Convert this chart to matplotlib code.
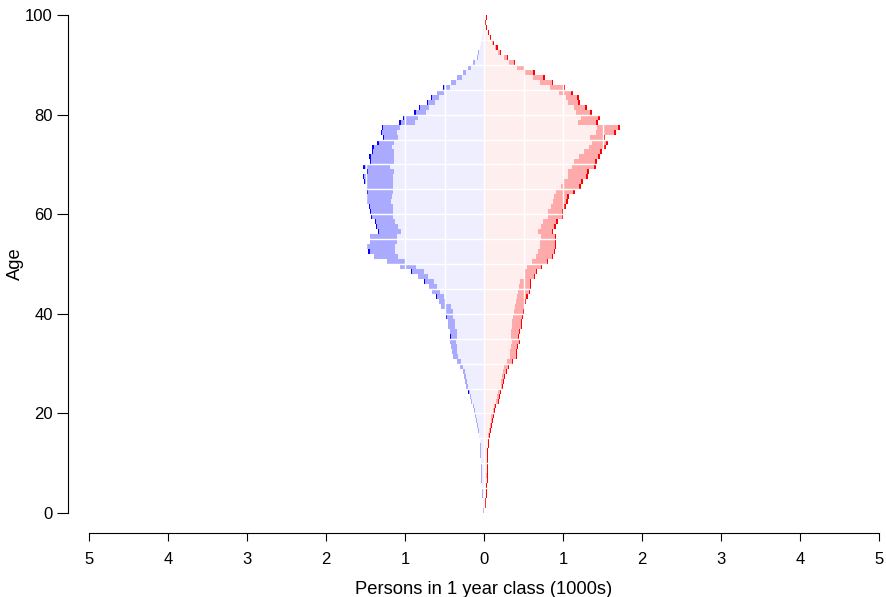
import numpy as np
import matplotlib
matplotlib.use('Agg')
import matplotlib.pyplot as plt

plt.rcParams['font.family'] = ['Liberation Sans', 'DejaVu Sans']

# ages 0..99, persons in 1000s
ages = np.arange(100)

male_inner = [0.005, 0.008, 0.013, 0.013, 0.013, 0.025, 0.025, 0.025, 0.025, 0.025,
              0.038, 0.038, 0.038, 0.038, 0.051, 0.063, 0.063, 0.076, 0.089, 0.101,
              0.114, 0.127, 0.152, 0.165, 0.177, 0.203, 0.215, 0.228, 0.241, 0.266,
              0.291, 0.329, 0.342, 0.342, 0.354, 0.342, 0.342, 0.367, 0.367, 0.392,
              0.392, 0.418, 0.494, 0.506, 0.557, 0.595, 0.633, 0.709, 0.759, 0.861,
              1.000, 1.089, 1.127, 1.127, 1.101, 1.101, 1.051, 1.089, 1.127, 1.152,
              1.152, 1.152, 1.177, 1.169, 1.152, 1.152, 1.152, 1.152, 1.139, 1.190,
              1.139, 1.139, 1.139, 1.165, 1.139, 1.084, 1.101, 1.063, 0.873, 0.831,
              0.734, 0.696, 0.620, 0.570, 0.506, 0.430, 0.359, 0.283, 0.228, 0.169,
              0.114, 0.080, 0.060, 0.045, 0.032, 0.020, 0.008, 0.008, 0.000, 0.008]

male_mid = [0.013, 0.013, 0.013, 0.025, 0.025, 0.025, 0.038, 0.038, 0.038, 0.038,
            0.038, 0.051, 0.051, 0.051, 0.051, 0.063, 0.076, 0.089, 0.101, 0.114,
            0.127, 0.139, 0.165, 0.177, 0.190, 0.228, 0.241, 0.253, 0.266, 0.304,
            0.342, 0.392, 0.405, 0.418, 0.430, 0.418, 0.430, 0.456, 0.456, 0.468,
            0.481, 0.544, 0.570, 0.595, 0.658, 0.696, 0.747, 0.835, 0.907, 1.063,
            1.228, 1.392, 1.443, 1.481, 1.443, 1.443, 1.325, 1.354, 1.367, 1.418,
            1.430, 1.439, 1.481, 1.481, 1.464, 1.481, 1.506, 1.519, 1.473, 1.506,
            1.426, 1.430, 1.401, 1.397, 1.329, 1.262, 1.291, 1.278, 1.055, 1.008,
            0.865, 0.806, 0.709, 0.658, 0.595, 0.506, 0.418, 0.342, 0.266, 0.203,
            0.139, 0.090, 0.070, 0.050, 0.038, 0.025, 0.013, 0.013, 0.005, 0.013]

male_outer = [0.013, 0.013, 0.013, 0.025, 0.025, 0.025, 0.038, 0.038, 0.038, 0.038,
              0.038, 0.051, 0.051, 0.051, 0.051, 0.063, 0.076, 0.089, 0.101, 0.114,
              0.127, 0.139, 0.165, 0.177, 0.203, 0.228, 0.241, 0.253, 0.266, 0.304,
              0.342, 0.392, 0.405, 0.418, 0.430, 0.430, 0.430, 0.456, 0.456, 0.481,
              0.481, 0.544, 0.570, 0.608, 0.658, 0.696, 0.759, 0.835, 0.924, 1.063,
              1.228, 1.392, 1.468, 1.494, 1.443, 1.443, 1.342, 1.367, 1.380, 1.430,
              1.443, 1.456, 1.494, 1.494, 1.481, 1.494, 1.520, 1.532, 1.494, 1.532,
              1.443, 1.456, 1.418, 1.418, 1.354, 1.278, 1.304, 1.295, 1.076, 1.025,
              0.886, 0.823, 0.722, 0.671, 0.595, 0.519, 0.418, 0.342, 0.266, 0.203,
              0.139, 0.090, 0.070, 0.050, 0.038, 0.025, 0.013, 0.013, 0.005, 0.013]

female_inner = [0.005, 0.008, 0.013, 0.021, 0.021, 0.030, 0.034, 0.025, 0.034, 0.034,
                0.038, 0.038, 0.038, 0.046, 0.046, 0.055, 0.063, 0.076, 0.084, 0.089,
                0.114, 0.127, 0.152, 0.165, 0.177, 0.215, 0.215, 0.228, 0.241, 0.253,
                0.291, 0.329, 0.329, 0.342, 0.354, 0.342, 0.342, 0.354, 0.354, 0.367,
                0.376, 0.388, 0.401, 0.414, 0.426, 0.443, 0.451, 0.515, 0.515, 0.544,
                0.608, 0.658, 0.684, 0.709, 0.709, 0.722, 0.684, 0.722, 0.747, 0.810,
                0.810, 0.848, 0.873, 0.886, 0.911, 0.975, 1.013, 1.063, 1.063, 1.114,
                1.139, 1.203, 1.266, 1.329, 1.367, 1.342, 1.418, 1.435, 1.190, 1.224,
                1.165, 1.135, 1.068, 1.034, 0.949, 0.835, 0.709, 0.616, 0.519, 0.418,
                0.312, 0.249, 0.173, 0.139, 0.097, 0.076, 0.046, 0.025, 0.013, 0.025]

female_mid = [0.010, 0.008, 0.013, 0.021, 0.021, 0.030, 0.034, 0.034, 0.034, 0.034,
              0.038, 0.038, 0.042, 0.046, 0.051, 0.059, 0.072, 0.084, 0.097, 0.110,
              0.122, 0.139, 0.173, 0.186, 0.198, 0.228, 0.236, 0.253, 0.278, 0.300,
              0.350, 0.401, 0.401, 0.418, 0.439, 0.426, 0.439, 0.464, 0.464, 0.477,
              0.489, 0.506, 0.519, 0.536, 0.565, 0.578, 0.578, 0.629, 0.654, 0.717,
              0.797, 0.861, 0.886, 0.899, 0.899, 0.899, 0.857, 0.890, 0.911, 0.983,
              0.983, 1.013, 1.038, 1.051, 1.127, 1.203, 1.228, 1.287, 1.304, 1.392,
              1.405, 1.443, 1.464, 1.511, 1.540, 1.511, 1.646, 1.692, 1.414, 1.439,
              1.342, 1.278, 1.186, 1.173, 1.101, 1.004, 0.857, 0.751, 0.616, 0.502,
              0.380, 0.291, 0.203, 0.156, 0.110, 0.076, 0.046, 0.025, 0.013, 0.025]

female_outer = [0.017, 0.021, 0.025, 0.034, 0.034, 0.042, 0.046, 0.046, 0.046, 0.046,
                0.051, 0.051, 0.055, 0.059, 0.059, 0.072, 0.084, 0.097, 0.110, 0.122,
                0.135, 0.152, 0.186, 0.198, 0.211, 0.241, 0.249, 0.266, 0.291, 0.312,
                0.363, 0.414, 0.414, 0.430, 0.451, 0.439, 0.451, 0.477, 0.477, 0.489,
                0.502, 0.519, 0.536, 0.553, 0.582, 0.591, 0.595, 0.646, 0.671, 0.734,
                0.810, 0.873, 0.899, 0.911, 0.911, 0.911, 0.873, 0.911, 0.932, 1.000,
                1.004, 1.038, 1.063, 1.076, 1.152, 1.228, 1.253, 1.312, 1.325, 1.414,
                1.426, 1.464, 1.489, 1.540, 1.570, 1.532, 1.671, 1.722, 1.439, 1.468,
                1.367, 1.308, 1.215, 1.198, 1.127, 1.021, 0.873, 0.772, 0.646, 0.502,
                0.397, 0.304, 0.219, 0.173, 0.122, 0.084, 0.059, 0.038, 0.025, 0.038]

xticks = [-5, -4, -3, -2, -1, 0, 1, 2, 3, 4, 5]
yticks = [0, 20, 40, 60, 80, 100]

fig = plt.figure(figsize=(8.86, 5.97), dpi=100)
ax = fig.add_axes([89 / 886, (597 - 533) / 597, 790 / 886, 518 / 597])

male_cols = ['#0000FF', '#AAAAFF', '#EEEEFF']
female_cols = ['#FF0000', '#FFAAAA', '#FFEEEE']
for vals, c in zip([male_outer, male_mid, male_inner], male_cols):
    ax.barh(ages, -np.array(vals), height=1, align='edge', color=c, lw=0)
for vals, c in zip([female_outer, female_mid, female_inner], female_cols):
    ax.barh(ages, vals, height=1, align='edge', color=c, lw=0)

# white grid over the bars
for x in np.arange(-5, 5.01, 0.5):
    ax.plot([x, x], [0, 100], color='white', lw=1, zorder=3)
for y in range(5, 100, 5):
    ax.plot([-5, 5], [y, y], color='white', lw=1, zorder=3)

ax.set_xlim(-5, 5)
ax.set_ylim(-4, 100)
ax.spines['top'].set_visible(False)
ax.spines['right'].set_visible(False)
ax.spines['left'].set_position(('outward', 15))
ax.spines['left'].set_bounds(0, 100)
ax.spines['bottom'].set_bounds(-5, 5)
for s in ['left', 'bottom']:
    ax.spines[s].set_linewidth(0.8)
    ax.spines[s].set_color('black')

ax.set_xticks(xticks)
ax.set_xticklabels([str(abs(t)) for t in xticks])
ax.set_yticks(yticks)
ax.tick_params(axis='x', direction='out', length=5.5, width=0.8, pad=8, labelsize=12)
ax.tick_params(axis='y', direction='out', length=8, width=0.8, pad=3, labelsize=12)
ax.set_xlabel('Persons in 1 year class (1000s)', fontsize=13.2, labelpad=10)
fig.text(15 / 886, 1 - 264 / 597, 'Age', rotation=90, fontsize=13.2,
         ha='center', va='center')

fig.savefig('out.png', dpi=100)
